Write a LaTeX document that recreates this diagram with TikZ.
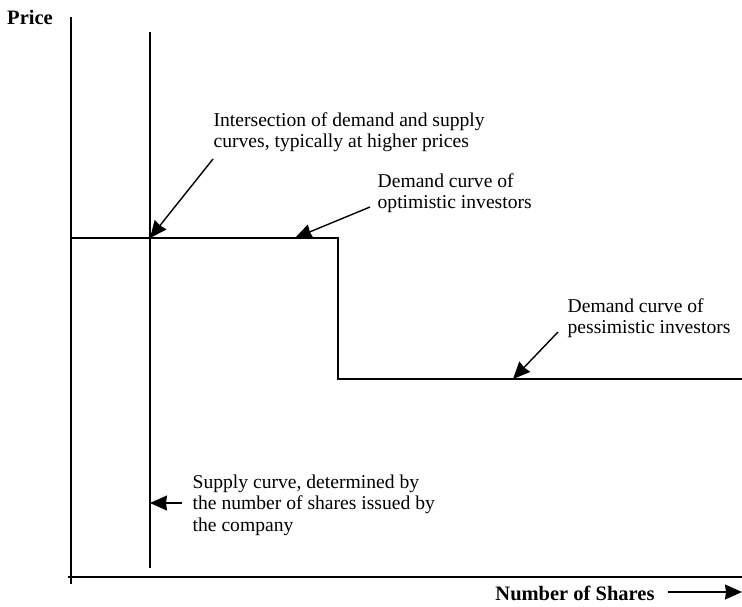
\documentclass[tikz,border=0pt]{standalone}
\usepackage{fontspec}
\setmainfont{Liberation Serif}
\usetikzlibrary{arrows.meta}
\begin{document}
\begin{tikzpicture}
  [x=1pt, y=-1pt, line width=1.3pt,
   lbl/.style={inner sep=0pt, anchor=west, align=left, font=\fontsize{19.6}{21.5}\selectfont},
   axlbl/.style={inner sep=0pt, font=\fontsize{20.5}{24}\selectfont\bfseries},
   pointer/.style={line width=1.4pt, -{Stealth[length=17pt, width=15pt, inset=1pt]}}]
  \useasboundingbox (0,0) rectangle (742,606);
  \node[axlbl] (price) at (30,17) {Price};
  \node[axlbl] (shares) at (575,593) {Number of Shares};
  \node[lbl] (inter) at (213,132) {Intersection of demand and supply\\curves, typically at higher prices};
  \node[lbl] (opt) at (377,193) {Demand curve of\\optimistic investors};
  \node[lbl] (pess) at (567,318) {Demand curve of\\pessimistic investors};
  \node[lbl] (supply) at (192,505) {Supply curve, determined by\\the number of shares issued by\\the company};

  \coordinate (ytop) at (71,17);
  \coordinate (ybot) at (71,584);
  \coordinate (xl) at (68,577);
  \coordinate (xr) at (742,577);
  \coordinate (stop) at (150,32);
  \coordinate (sbot) at (150,568);
  \coordinate (hi) at (71,238);
  \coordinate (step) at (338,238);
  \coordinate (stepb) at (338,379);
  \coordinate (lo) at (742,379);
  \draw (ytop) -- (ybot);
  \draw (xl) -- (xr);
  \draw (stop) -- (sbot);
  \draw (hi) -- (step) -- (stepb) -- (lo);

  \coordinate (eq) at (150,238);
  \coordinate (optpt) at (295,238);
  \coordinate (pesspt) at (513,379);
  \coordinate (suppt) at (150,503);
  \coordinate (xend) at (742,592);
  \coordinate (t1) at (213,159);
  \coordinate (t2) at (370,207);
  \coordinate (t3) at (558,332);
  \coordinate (t4) at (182,503);
  \coordinate (t5) at (668,592);
  \foreach \from/\to in {t1/eq,t2/optpt,t3/pesspt,t4/suppt,t5/xend}
  \draw[pointer] (\from) -- (\to);
\end{tikzpicture}
\end{document}
